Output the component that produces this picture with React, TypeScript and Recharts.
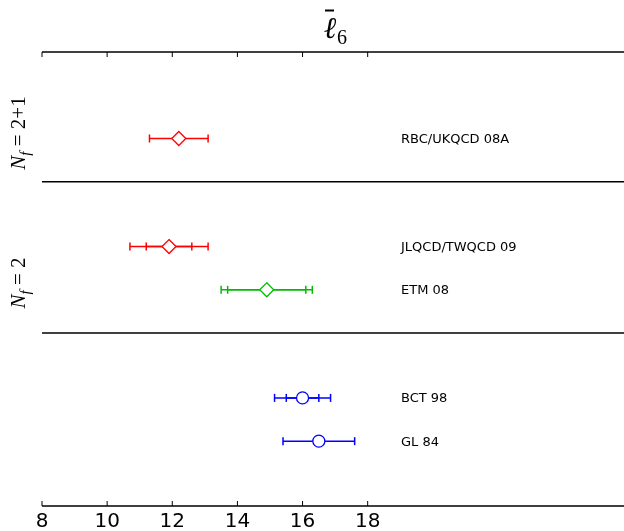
import React from 'react';
import { ScatterChart, Scatter, XAxis, YAxis, ErrorBar, ReferenceLine } from 'recharts';

// one row per result, top to bottom
const labels = ['RBC/UKQCD 08A', 'JLQCD/TWQCD 09', 'ETM 08', 'BCT 98', 'GL 84'];
const rowPos = [8.5, 6, 5, 2.5, 1.5];
const centers = [12.2, 11.9, 14.9, 16.0, 16.5];
const statErr = [null, 0.7, 1.2, 0.5, null];
const totalErr = [0.9, 1.2, 1.4, 0.86, 1.1];

const xTicks = [8, 10, 12, 14, 16, 18];
const separators = [4, 7.5];
const groupLabels = [
  { main: '2+1', y: 133 },
  { main: '2', y: 283 },
];

const W = 624;
const H = 531;
const LABEL_X = 401;

const makeRows = (idx: number[]) =>
  idx.map((i) => ({ x: centers[i], y: rowPos[i], name: labels[i], stat: statErr[i], total: totalErr[i] }));

const series = [
  { key: 'red', color: '#ff0000', marker: 'diamond', rows: makeRows([0, 1]) },
  { key: 'green', color: '#00bb00', marker: 'diamond', rows: makeRows([2]) },
  { key: 'blue', color: '#0000ff', marker: 'circle', rows: makeRows([3, 4]) },
];

const Marker = (props: any) => {
  const { cx, cy, color, kind, payload } = props;
  const d = 7;
  return (
    <g>
      {kind === 'diamond' ? (
        <polygon
          points={`${cx},${cy - d} ${cx + d},${cy} ${cx},${cy + d} ${cx - d},${cy}`}
          fill="#fff"
          stroke={color}
          strokeWidth={1.3}
        />
      ) : (
        <circle cx={cx} cy={cy} r={6} fill="#fff" stroke={color} strokeWidth={1.3} />
      )}
      <text x={LABEL_X} y={cy} dominantBaseline="central" fontSize={13} fontFamily="DejaVu Sans" fill="#000">
        {payload.name}
      </text>
    </g>
  );
};

const BottomTick = (p: any) => (
  <g>
    <line x1={p.x} x2={p.x} y1={p.y} y2={p.y - 5} stroke="#000" strokeWidth={1} />
    <text x={p.x} y={p.y + 21} textAnchor="middle" fontSize={20} fontFamily="DejaVu Sans" fill="#000">
      {p.payload.value}
    </text>
  </g>
);

const TopTick = (p: any) => <line x1={p.x} x2={p.x} y1={p.y} y2={p.y + 5} stroke="#000" strokeWidth={1} />;

export default function App() {
  return (
    <div style={{ position: 'fixed', left: 0, top: 0, width: W, height: H }}>
      <ScatterChart width={W} height={H} margin={{ top: 42, right: 0, bottom: 0, left: 42 }}>
        <XAxis
          type="number"
          dataKey="x"
          domain={[8, 25.87]}
          ticks={xTicks}
          allowDataOverflow
          height={25}
          tickSize={0}
          tickMargin={0}
          tickLine={false}
          tick={<BottomTick />}
          axisLine={{ stroke: '#000', strokeWidth: 1.5 }}
        />
        <XAxis
          xAxisId="top"
          orientation="top"
          type="number"
          dataKey="x"
          domain={[8, 25.87]}
          ticks={xTicks}
          allowDataOverflow
          height={10}
          tickSize={0}
          tickMargin={0}
          tickLine={false}
          tick={<TopTick />}
          axisLine={{ stroke: '#000', strokeWidth: 1.5 }}
        />
        <YAxis
          type="number"
          dataKey="y"
          domain={[0, 10.5]}
          allowDataOverflow
          width={0}
          tick={false}
          tickLine={false}
          axisLine={{ stroke: '#000', strokeWidth: 1.5 }}
        />
        {separators.map((s) => (
          <ReferenceLine key={s} y={s} stroke="#000" strokeWidth={1.5} />
        ))}
        {series.map((s) => (
          <Scatter
            key={s.key}
            data={s.rows}
            isAnimationActive={false}
            shape={(p: any) => <Marker {...p} color={s.color} kind={s.marker} />}
          >
            <ErrorBar dataKey="total" direction="x" width={4} stroke={s.color} strokeWidth={1.5} />
            <ErrorBar dataKey="stat" direction="x" width={4} stroke={s.color} strokeWidth={1.5} />
          </Scatter>
        ))}
      </ScatterChart>
      <svg width={W} height={H} style={{ position: 'absolute', left: 0, top: 0, pointerEvents: 'none' }}>
        <text x={330} y={38} textAnchor="middle" fontSize={30} fontStyle="italic" fontFamily="Liberation Serif">
          ℓ
        </text>
        <line x1={325} x2={334} y1={10.5} y2={10.5} stroke="#000" strokeWidth={2} />
        <text x={337} y={44} fontSize={20} fontFamily="Liberation Serif">
          6
        </text>
        {groupLabels.map((g) => (
          <text
            key={g.main}
            x={25}
            y={g.y}
            transform={`rotate(-90, 25, ${g.y})`}
            textAnchor="middle"
            fontSize={21}
            fontFamily="Liberation Serif"
          >
            <tspan fontStyle="italic">N</tspan>
            <tspan fontStyle="italic" fontSize={15} dy={5}>f</tspan>
            <tspan dy={-5}>{' = ' + g.main}</tspan>
          </text>
        ))}
      </svg>
    </div>
  );
}
